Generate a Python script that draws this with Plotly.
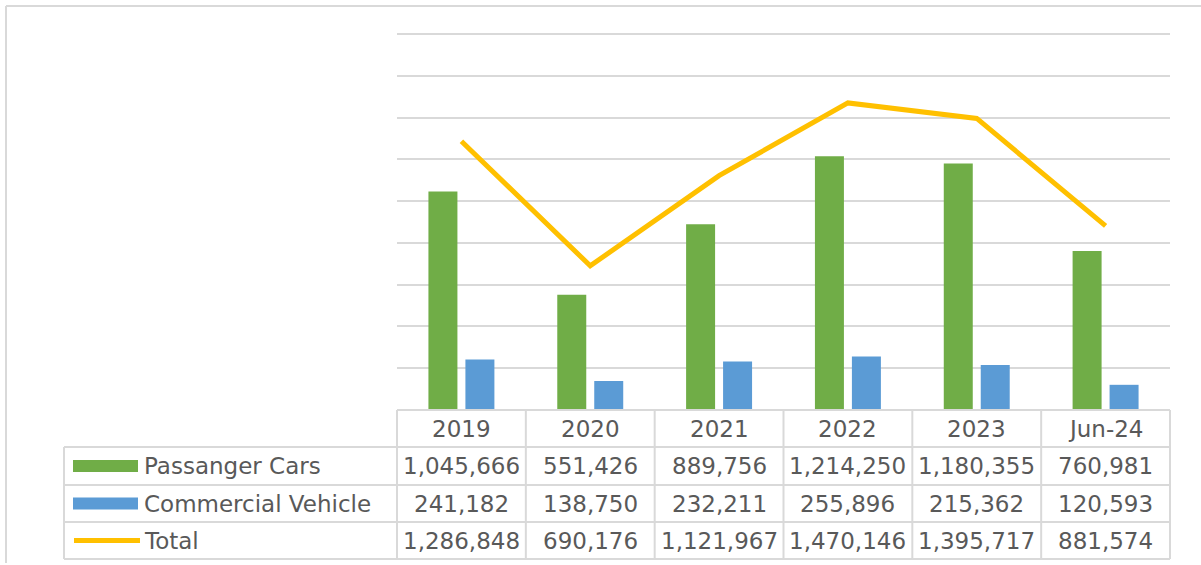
import plotly.graph_objects as go

categories = ["2019", "2020", "2021", "2022", "2023", "Jun-24"]
passenger_cars = [1045666, 551426, 889756, 1214250, 1180355, 760981]
commercial = [241182, 138750, 232211, 255896, 215362, 120593]
total = [1286848, 690176, 1121967, 1470146, 1395717, 881574]
series_names = ["Passanger Cars", "Commercial Vehicle", "Total"]

GREEN = "#70AD47"
BLUE = "#5B9BD5"
GOLD = "#FFC000"
GRID = "#D9D9D9"
TXT = "#595959"
FONT = "DejaVu Sans"
FS = 23

W, H = 1201, 565
L, R, T, B = 397, 1170, 34, 410


def px_x(p):
    return (p - L) / (R - L)


def px_y(p):
    return (B - p) / (B - T)


fig = go.Figure()
fig.add_trace(go.Bar(x=categories, y=passenger_cars, name=series_names[0],
                     marker=dict(color=GREEN, line=dict(width=0))))
fig.add_trace(go.Bar(x=categories, y=commercial, name=series_names[1],
                     marker=dict(color=BLUE, line=dict(width=0))))
fig.add_trace(go.Scatter(x=categories, y=total, name=series_names[2], mode="lines",
                         line=dict(color=GOLD, width=5), cliponaxis=False))

shapes = []


def hline(y, x0, x1, color=GRID, width=2):
    shapes.append(dict(type="line", xref="paper", yref="paper",
                       x0=px_x(x0), x1=px_x(x1), y0=px_y(y), y1=px_y(y),
                       line=dict(color=color, width=width)))


def vline(x, y0, y1, color=GRID, width=2):
    shapes.append(dict(type="line", xref="paper", yref="paper",
                       x0=px_x(x), x1=px_x(x), y0=px_y(y0), y1=px_y(y1),
                       line=dict(color=color, width=width)))


# outer chart border (left + top)
hline(6, 6, 1205)
vline(6, 6, 563)
# top gridline (range edge)
hline(T, L, R)

# data table grid
row_lines = [410, 447, 485, 522, 559]
hline(410, L, R)
for yy in row_lines[1:]:
    hline(yy, 64, R)
vline(64, 447, 559)
for i in range(len(categories) + 1):
    xx = L + i * (R - L) / len(categories)
    vline(xx, 410, 559)

annotations = []
row_centers = [466, 503.5, 540.5]

# header row
for i, c in enumerate(categories):
    annotations.append(dict(x=i, xref="x", y=px_y(428.5), yref="paper", text=c,
                            showarrow=False, xanchor="center", yanchor="middle",
                            font=dict(family=FONT, size=FS, color=TXT)))

for row, (name, vals) in enumerate(zip(series_names, [passenger_cars, commercial, total])):
    yc = px_y(row_centers[row])
    for i, v in enumerate(vals):
        annotations.append(dict(x=i, xref="x", y=yc, yref="paper", text=f"{v:,}",
                                showarrow=False, xanchor="center", yanchor="middle",
                                font=dict(family=FONT, size=FS, color=TXT)))
    annotations.append(dict(x=px_x(142), xref="paper", y=yc, yref="paper", text=name,
                            showarrow=False, xanchor="left", yanchor="middle",
                            font=dict(family=FONT, size=FS, color=TXT)))

# legend keys in table
for row, col in enumerate([GREEN, BLUE]):
    yc = row_centers[row]
    shapes.append(dict(type="rect", xref="paper", yref="paper",
                       x0=px_x(73), x1=px_x(138), y0=px_y(yc - 6), y1=px_y(yc + 6),
                       fillcolor=col, line=dict(width=0)))
shapes.append(dict(type="line", xref="paper", yref="paper",
                   x0=px_x(74), x1=px_x(140), y0=px_y(row_centers[2]), y1=px_y(row_centers[2]),
                   line=dict(color=GOLD, width=5)))

fig.update_layout(
    width=W, height=H,
    margin=dict(l=L, r=W - R, t=T, b=H - B),
    paper_bgcolor="white", plot_bgcolor="white",
    barmode="group", bargap=0.426, bargroupgap=0.216,
    showlegend=False,
    xaxis=dict(range=[-0.5, 5.5], showticklabels=False, showgrid=False,
               zeroline=False, showline=False, ticks=""),
    yaxis=dict(range=[0, 1800000], dtick=200000, showticklabels=False,
               showgrid=True, gridcolor=GRID, gridwidth=2,
               zeroline=True, zerolinecolor=GRID, zerolinewidth=2, ticks=""),
    shapes=shapes,
    annotations=annotations,
)

fig.write_html("out.html", config={"displayModeBar": False},
               post_script="document.body.style.margin='0';")
